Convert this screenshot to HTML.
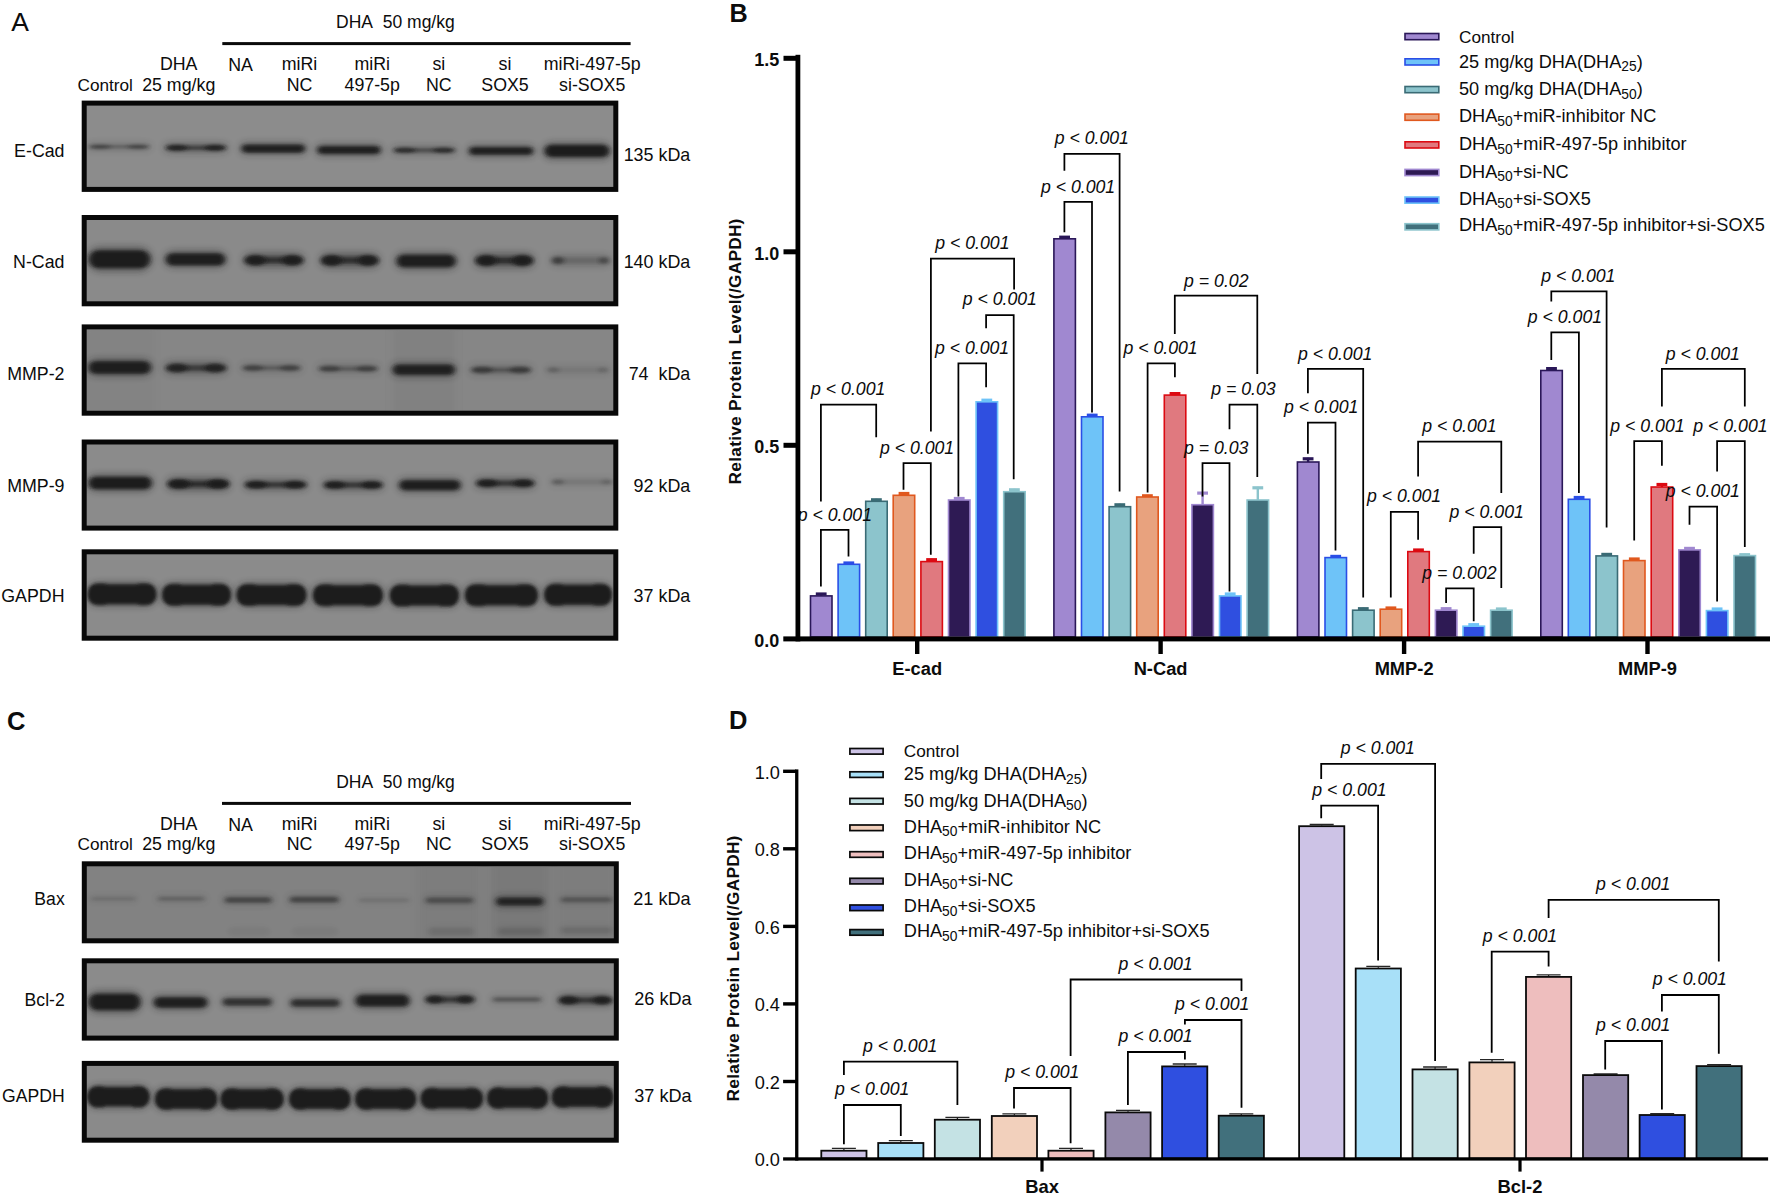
<!DOCTYPE html>
<html lang="en"><head><meta charset="utf-8"><title>Figure</title>
<style>html,body{margin:0;padding:0;background:#fff;}svg{display:block;}text{font-family:'Liberation Sans', sans-serif;fill:#0c0c0c;}</style>
</head><body>
<svg width="1772" height="1196" viewBox="0 0 1772 1196">
<defs>
<filter id="blC" x="-30%" y="-200%" width="160%" height="500%"><feGaussianBlur stdDeviation="2.6 1.7"/></filter>
<filter id="blB" x="-30%" y="-200%" width="160%" height="500%"><feGaussianBlur stdDeviation="1.6 1.4"/></filter>
<filter id="blH" x="-30%" y="-200%" width="160%" height="500%"><feGaussianBlur stdDeviation="3.6 3.0"/></filter>
</defs>
<rect x="0" y="0" width="1772" height="1196" fill="#ffffff"/>
<text x="11.2" y="30.5" font-size="26.5" text-anchor="start" font-weight="normal" font-style="normal" >A</text>
<text x="395.4" y="27.6" font-size="17.5" text-anchor="middle" font-weight="normal" font-style="normal" >DHA&#160; 50 mg/kg</text>
<rect x="222.3" y="42.1" width="408.3" height="3.0" fill="#0a0a0a"/>
<text x="105.2" y="90.6" font-size="17.2" text-anchor="middle" font-weight="normal" font-style="normal" >Control</text>
<text x="178.7" y="70.3" font-size="17.8" text-anchor="middle" font-weight="normal" font-style="normal" >DHA</text>
<text x="178.7" y="90.6" font-size="17.8" text-anchor="middle" font-weight="normal" font-style="normal" >25 mg/kg</text>
<text x="240.5" y="71.3" font-size="17.8" text-anchor="middle" font-weight="normal" font-style="normal" >NA</text>
<text x="299.5" y="70.3" font-size="17.8" text-anchor="middle" font-weight="normal" font-style="normal" >miRi</text>
<text x="299.5" y="90.6" font-size="17.8" text-anchor="middle" font-weight="normal" font-style="normal" >NC</text>
<text x="372.2" y="70.3" font-size="17.8" text-anchor="middle" font-weight="normal" font-style="normal" >miRi</text>
<text x="372.2" y="90.6" font-size="17.8" text-anchor="middle" font-weight="normal" font-style="normal" >497-5p</text>
<text x="438.8" y="70.3" font-size="17.8" text-anchor="middle" font-weight="normal" font-style="normal" >si</text>
<text x="438.8" y="90.6" font-size="17.8" text-anchor="middle" font-weight="normal" font-style="normal" >NC</text>
<text x="505.0" y="70.3" font-size="17.8" text-anchor="middle" font-weight="normal" font-style="normal" >si</text>
<text x="505.0" y="90.6" font-size="17.8" text-anchor="middle" font-weight="normal" font-style="normal" >SOX5</text>
<text x="592.2" y="70.3" font-size="17.8" text-anchor="middle" font-weight="normal" font-style="normal" >miRi-497-5p</text>
<text x="592.2" y="90.6" font-size="17.8" text-anchor="middle" font-weight="normal" font-style="normal" >si-SOX5</text>
<g>
<rect x="81.7" y="100.6" width="536.5999999999999" height="91.30000000000001" fill="#080808"/>
<rect x="86.7" y="105.6" width="526.5999999999999" height="81.30000000000001" fill="#8c8c8c"/>
<clipPath id="cpa0"><rect x="86.7" y="105.6" width="526.5999999999999" height="81.30000000000001"/></clipPath>
<g clip-path="url(#cpa0)">
<rect x="87.3" y="142.8" width="63.5" height="8.0" rx="4.0" fill="#1b1b1b" opacity="0.18" filter="url(#blH)"/>
<rect x="90.3" y="145.6" width="57.5" height="2.5" rx="1.2" fill="#1b1b1b" opacity="0.33" filter="url(#blC)"/>
<ellipse cx="100.3" cy="146.8" rx="10.5" ry="2.1" fill="#1b1b1b" opacity="0.42" filter="url(#blC)"/>
<ellipse cx="137.8" cy="146.8" rx="10.5" ry="2.1" fill="#1b1b1b" opacity="0.42" filter="url(#blC)"/>
<rect x="164.2" y="142.8" width="63.5" height="10.0" rx="5.0" fill="#1b1b1b" opacity="0.34" filter="url(#blH)"/>
<rect x="167.2" y="146.1" width="57.5" height="3.5" rx="1.8" fill="#1b1b1b" opacity="0.62" filter="url(#blC)"/>
<ellipse cx="177.2" cy="147.8" rx="10.5" ry="2.9" fill="#1b1b1b" opacity="0.8" filter="url(#blC)"/>
<ellipse cx="214.7" cy="147.8" rx="10.5" ry="2.9" fill="#1b1b1b" opacity="0.8" filter="url(#blC)"/>
<rect x="240.0" y="142.3" width="66.6" height="12.5" rx="6.2" fill="#1b1b1b" opacity="0.40" filter="url(#blH)"/>
<rect x="242.2" y="144.8" width="62.2" height="7.6" rx="3.8" fill="#1b1b1b" opacity="0.95" filter="url(#blC)"/>
<rect x="315.8" y="143.8" width="66.2" height="12.5" rx="6.2" fill="#1b1b1b" opacity="0.40" filter="url(#blH)"/>
<rect x="318.0" y="146.2" width="61.8" height="7.6" rx="3.8" fill="#1b1b1b" opacity="0.95" filter="url(#blC)"/>
<rect x="392.0" y="145.8" width="64.5" height="9.0" rx="4.5" fill="#1b1b1b" opacity="0.29" filter="url(#blH)"/>
<rect x="395.0" y="148.8" width="58.5" height="3.0" rx="1.5" fill="#1b1b1b" opacity="0.53" filter="url(#blC)"/>
<ellipse cx="405.1" cy="150.3" rx="10.6" ry="2.5" fill="#1b1b1b" opacity="0.68" filter="url(#blC)"/>
<ellipse cx="443.4" cy="150.3" rx="10.6" ry="2.5" fill="#1b1b1b" opacity="0.68" filter="url(#blC)"/>
<rect x="467.5" y="144.9" width="67.2" height="12.0" rx="6.0" fill="#1b1b1b" opacity="0.40" filter="url(#blH)"/>
<rect x="469.7" y="147.3" width="62.8" height="7.2" rx="3.6" fill="#1b1b1b" opacity="0.95" filter="url(#blC)"/>
<rect x="543.0" y="142.2" width="68.0" height="17.5" rx="8.8" fill="#1b1b1b" opacity="0.42" filter="url(#blH)"/>
<rect x="545.2" y="145.1" width="63.6" height="11.6" rx="5.8" fill="#1b1b1b" opacity="1.0" filter="url(#blC)"/>
</g></g>
<g>
<rect x="81.7" y="215" width="536.5999999999999" height="91.30000000000001" fill="#080808"/>
<rect x="86.7" y="220.0" width="526.5999999999999" height="81.30000000000001" fill="#8a8a8a"/>
<clipPath id="cpa1"><rect x="86.7" y="220.0" width="526.5999999999999" height="81.30000000000001"/></clipPath>
<g clip-path="url(#cpa1)">
<rect x="87.3" y="246.7" width="64.5" height="25.0" rx="12.5" fill="#1b1b1b" opacity="0.42" filter="url(#blH)"/>
<rect x="89.5" y="250.4" width="60.1" height="17.6" rx="8.8" fill="#1b1b1b" opacity="1.0" filter="url(#blC)"/>
<rect x="164.2" y="250.6" width="62.6" height="17.5" rx="8.8" fill="#1b1b1b" opacity="0.41" filter="url(#blH)"/>
<rect x="166.4" y="253.6" width="58.2" height="11.6" rx="5.8" fill="#1b1b1b" opacity="0.97" filter="url(#blC)"/>
<rect x="243.0" y="252.4" width="61.7" height="15.5" rx="7.8" fill="#1b1b1b" opacity="0.38" filter="url(#blH)"/>
<rect x="246.0" y="257.1" width="55.7" height="6.2" rx="3.1" fill="#1b1b1b" opacity="0.70" filter="url(#blC)"/>
<ellipse cx="255.6" cy="260.2" rx="10.1" ry="5.2" fill="#1b1b1b" opacity="0.9" filter="url(#blC)"/>
<ellipse cx="292.1" cy="260.2" rx="10.1" ry="5.2" fill="#1b1b1b" opacity="0.9" filter="url(#blC)"/>
<rect x="319.5" y="252.4" width="60.5" height="16.0" rx="8.0" fill="#1b1b1b" opacity="0.38" filter="url(#blH)"/>
<rect x="322.5" y="257.1" width="54.5" height="6.5" rx="3.2" fill="#1b1b1b" opacity="0.70" filter="url(#blC)"/>
<ellipse cx="331.9" cy="260.4" rx="9.9" ry="5.5" fill="#1b1b1b" opacity="0.9" filter="url(#blC)"/>
<ellipse cx="367.6" cy="260.4" rx="9.9" ry="5.5" fill="#1b1b1b" opacity="0.9" filter="url(#blC)"/>
<rect x="395.0" y="252.0" width="62.4" height="18.0" rx="9.0" fill="#1b1b1b" opacity="0.41" filter="url(#blH)"/>
<rect x="397.2" y="255.0" width="58.0" height="12.0" rx="6.0" fill="#1b1b1b" opacity="0.97" filter="url(#blC)"/>
<rect x="474.0" y="252.5" width="60.7" height="16.0" rx="8.0" fill="#1b1b1b" opacity="0.39" filter="url(#blH)"/>
<rect x="477.0" y="257.2" width="54.7" height="6.5" rx="3.2" fill="#1b1b1b" opacity="0.72" filter="url(#blC)"/>
<ellipse cx="486.5" cy="260.5" rx="10.0" ry="5.5" fill="#1b1b1b" opacity="0.92" filter="url(#blC)"/>
<ellipse cx="522.2" cy="260.5" rx="10.0" ry="5.5" fill="#1b1b1b" opacity="0.92" filter="url(#blC)"/>
<rect x="550.4" y="254.8" width="60.6" height="11.5" rx="5.8" fill="#1b1b1b" opacity="0.23" filter="url(#blH)"/>
<rect x="553.4" y="258.4" width="54.6" height="4.2" rx="2.1" fill="#1b1b1b" opacity="0.12" filter="url(#blC)"/>
<ellipse cx="557.9" cy="260.5" rx="6" ry="3.8" fill="#1b1b1b" opacity="0.55" filter="url(#blC)"/>
<ellipse cx="604.0" cy="260.5" rx="5" ry="3.6" fill="#1b1b1b" opacity="0.41" filter="url(#blC)"/>
</g></g>
<g>
<rect x="81.7" y="324.4" width="536.5999999999999" height="91.30000000000001" fill="#080808"/>
<rect x="86.7" y="329.4" width="526.5999999999999" height="81.30000000000001" fill="#868686"/>
<clipPath id="cpa2"><rect x="86.7" y="329.4" width="526.5999999999999" height="81.30000000000001"/></clipPath>
<g clip-path="url(#cpa2)">
<rect x="86" y="325" width="68" height="95" fill="#7c7c7c" opacity="0.25" filter="url(#blH)"/>
<rect x="392" y="325" width="64" height="95" fill="#787878" opacity="0.3" filter="url(#blH)"/>
<rect x="87.0" y="358.5" width="65.4" height="18.0" rx="9.0" fill="#1b1b1b" opacity="0.41" filter="url(#blH)"/>
<rect x="89.2" y="361.5" width="61.0" height="12.0" rx="6.0" fill="#1b1b1b" opacity="0.97" filter="url(#blC)"/>
<rect x="164.3" y="361.2" width="63.5" height="13.5" rx="6.8" fill="#1b1b1b" opacity="0.33" filter="url(#blH)"/>
<rect x="167.3" y="365.4" width="57.5" height="5.2" rx="2.6" fill="#1b1b1b" opacity="0.61" filter="url(#blC)"/>
<ellipse cx="177.3" cy="368.0" rx="10.5" ry="4.4" fill="#1b1b1b" opacity="0.78" filter="url(#blC)"/>
<ellipse cx="214.8" cy="368.0" rx="10.5" ry="4.4" fill="#1b1b1b" opacity="0.78" filter="url(#blC)"/>
<rect x="240.7" y="363.0" width="61.6" height="10.0" rx="5.0" fill="#1b1b1b" opacity="0.18" filter="url(#blH)"/>
<rect x="243.7" y="366.2" width="55.6" height="3.5" rx="1.8" fill="#1b1b1b" opacity="0.33" filter="url(#blC)"/>
<ellipse cx="253.3" cy="368.0" rx="10.1" ry="2.9" fill="#1b1b1b" opacity="0.42" filter="url(#blC)"/>
<ellipse cx="289.7" cy="368.0" rx="10.1" ry="2.9" fill="#1b1b1b" opacity="0.42" filter="url(#blC)"/>
<rect x="317.0" y="363.6" width="62.3" height="10.0" rx="5.0" fill="#1b1b1b" opacity="0.18" filter="url(#blH)"/>
<rect x="320.0" y="366.9" width="56.3" height="3.5" rx="1.8" fill="#1b1b1b" opacity="0.34" filter="url(#blC)"/>
<ellipse cx="329.8" cy="368.6" rx="10.3" ry="2.9" fill="#1b1b1b" opacity="0.44" filter="url(#blC)"/>
<ellipse cx="366.5" cy="368.6" rx="10.3" ry="2.9" fill="#1b1b1b" opacity="0.44" filter="url(#blC)"/>
<rect x="391.2" y="362.1" width="65.3" height="15.5" rx="7.8" fill="#1b1b1b" opacity="0.39" filter="url(#blH)"/>
<rect x="393.4" y="364.8" width="60.9" height="10.0" rx="5.0" fill="#1b1b1b" opacity="0.92" filter="url(#blC)"/>
<rect x="469.4" y="364.4" width="63.4" height="11.0" rx="5.5" fill="#1b1b1b" opacity="0.20" filter="url(#blH)"/>
<rect x="472.4" y="367.9" width="57.4" height="4.0" rx="2.0" fill="#1b1b1b" opacity="0.37" filter="url(#blC)"/>
<ellipse cx="482.3" cy="369.9" rx="10.4" ry="3.4" fill="#1b1b1b" opacity="0.48" filter="url(#blC)"/>
<ellipse cx="519.9" cy="369.9" rx="10.4" ry="3.4" fill="#1b1b1b" opacity="0.48" filter="url(#blC)"/>
<rect x="545.7" y="365.4" width="64.3" height="9.0" rx="4.5" fill="#1b1b1b" opacity="0.10" filter="url(#blH)"/>
<rect x="548.7" y="368.4" width="58.3" height="3.0" rx="1.5" fill="#1b1b1b" opacity="0.06" filter="url(#blC)"/>
<ellipse cx="553.2" cy="369.9" rx="6" ry="2.7" fill="#1b1b1b" opacity="0.25" filter="url(#blC)"/>
<ellipse cx="603.0" cy="369.9" rx="5" ry="2.5" fill="#1b1b1b" opacity="0.19" filter="url(#blC)"/>
</g></g>
<g>
<rect x="81.7" y="439.5" width="536.5999999999999" height="91.10000000000002" fill="#080808"/>
<rect x="86.7" y="444.5" width="526.5999999999999" height="81.10000000000002" fill="#8b8b8b"/>
<clipPath id="cpa3"><rect x="86.7" y="444.5" width="526.5999999999999" height="81.10000000000002"/></clipPath>
<g clip-path="url(#cpa3)">
<rect x="87.0" y="474.0" width="66.3" height="18.0" rx="9.0" fill="#1b1b1b" opacity="0.42" filter="url(#blH)"/>
<rect x="89.2" y="477.0" width="61.9" height="12.0" rx="6.0" fill="#1b1b1b" opacity="1.0" filter="url(#blC)"/>
<rect x="166.2" y="476.8" width="64.4" height="14.5" rx="7.2" fill="#1b1b1b" opacity="0.40" filter="url(#blH)"/>
<rect x="169.2" y="481.1" width="58.4" height="5.8" rx="2.9" fill="#1b1b1b" opacity="0.74" filter="url(#blC)"/>
<ellipse cx="179.3" cy="484.0" rx="10.6" ry="4.8" fill="#1b1b1b" opacity="0.95" filter="url(#blC)"/>
<ellipse cx="217.5" cy="484.0" rx="10.6" ry="4.8" fill="#1b1b1b" opacity="0.95" filter="url(#blC)"/>
<rect x="243.5" y="478.8" width="64.3" height="12.0" rx="6.0" fill="#1b1b1b" opacity="0.37" filter="url(#blH)"/>
<rect x="246.5" y="482.6" width="58.3" height="4.5" rx="2.2" fill="#1b1b1b" opacity="0.69" filter="url(#blC)"/>
<ellipse cx="256.6" cy="484.8" rx="10.6" ry="3.8" fill="#1b1b1b" opacity="0.88" filter="url(#blC)"/>
<ellipse cx="294.7" cy="484.8" rx="10.6" ry="3.8" fill="#1b1b1b" opacity="0.88" filter="url(#blC)"/>
<rect x="322.5" y="479.0" width="61.5" height="12.0" rx="6.0" fill="#1b1b1b" opacity="0.37" filter="url(#blH)"/>
<rect x="325.5" y="482.8" width="55.5" height="4.5" rx="2.2" fill="#1b1b1b" opacity="0.69" filter="url(#blC)"/>
<ellipse cx="335.1" cy="485.0" rx="10.1" ry="3.8" fill="#1b1b1b" opacity="0.88" filter="url(#blC)"/>
<ellipse cx="371.4" cy="485.0" rx="10.1" ry="3.8" fill="#1b1b1b" opacity="0.88" filter="url(#blC)"/>
<rect x="397.7" y="477.7" width="64.3" height="15.0" rx="7.5" fill="#1b1b1b" opacity="0.41" filter="url(#blH)"/>
<rect x="399.9" y="480.4" width="59.9" height="9.6" rx="4.8" fill="#1b1b1b" opacity="0.97" filter="url(#blC)"/>
<rect x="475.0" y="477.2" width="60.6" height="12.0" rx="6.0" fill="#1b1b1b" opacity="0.38" filter="url(#blH)"/>
<rect x="478.0" y="480.9" width="54.6" height="4.5" rx="2.2" fill="#1b1b1b" opacity="0.70" filter="url(#blC)"/>
<ellipse cx="487.5" cy="483.2" rx="10.0" ry="3.8" fill="#1b1b1b" opacity="0.9" filter="url(#blC)"/>
<ellipse cx="523.1" cy="483.2" rx="10.0" ry="3.8" fill="#1b1b1b" opacity="0.9" filter="url(#blC)"/>
<rect x="550.4" y="477.8" width="63.4" height="8.5" rx="4.2" fill="#1b1b1b" opacity="0.13" filter="url(#blH)"/>
<rect x="553.4" y="480.6" width="57.4" height="2.8" rx="1.4" fill="#1b1b1b" opacity="0.07" filter="url(#blC)"/>
<ellipse cx="557.9" cy="482.0" rx="6" ry="2.5" fill="#1b1b1b" opacity="0.3" filter="url(#blC)"/>
<ellipse cx="606.8" cy="482.0" rx="5" ry="2.3" fill="#1b1b1b" opacity="0.22" filter="url(#blC)"/>
</g></g>
<g>
<rect x="81.7" y="549.3" width="536.5999999999999" height="91.40000000000009" fill="#080808"/>
<rect x="86.7" y="554.3" width="526.5999999999999" height="81.40000000000009" fill="#8b8b8b"/>
<clipPath id="cpa4"><rect x="86.7" y="554.3" width="526.5999999999999" height="81.40000000000009"/></clipPath>
<g clip-path="url(#cpa4)">
<rect x="86.1" y="582.0" width="71.8" height="24.5" rx="12.2" fill="#1b1b1b" opacity="0.42" filter="url(#blH)"/>
<g filter="url(#blB)" opacity="1.0" fill="#1b1b1b">
<rect x="88.6" y="584.6" width="66.8" height="19.4" rx="9.7"/>
<rect x="87.9" y="583.5" width="25.1" height="21.5" rx="9.5"/>
<rect x="131.0" y="583.5" width="25.1" height="21.5" rx="9.5"/>
</g>
<rect x="160.6" y="582.5" width="71.8" height="24.5" rx="12.2" fill="#1b1b1b" opacity="0.42" filter="url(#blH)"/>
<g filter="url(#blB)" opacity="1.0" fill="#1b1b1b">
<rect x="163.1" y="585.1" width="66.8" height="19.4" rx="9.7"/>
<rect x="162.4" y="584.0" width="25.1" height="21.5" rx="9.5"/>
<rect x="205.5" y="584.0" width="25.1" height="21.5" rx="9.5"/>
</g>
<rect x="235.0" y="582.8" width="72.9" height="24.5" rx="12.2" fill="#1b1b1b" opacity="0.42" filter="url(#blH)"/>
<g filter="url(#blB)" opacity="1.0" fill="#1b1b1b">
<rect x="237.5" y="585.3" width="67.9" height="19.4" rx="9.7"/>
<rect x="236.8" y="584.2" width="25.5" height="21.5" rx="9.5"/>
<rect x="280.6" y="584.2" width="25.5" height="21.5" rx="9.5"/>
</g>
<rect x="311.4" y="583.0" width="73.0" height="24.5" rx="12.2" fill="#1b1b1b" opacity="0.42" filter="url(#blH)"/>
<g filter="url(#blB)" opacity="1.0" fill="#1b1b1b">
<rect x="313.9" y="585.5" width="68.0" height="19.4" rx="9.7"/>
<rect x="313.2" y="584.5" width="25.6" height="21.5" rx="9.5"/>
<rect x="357.0" y="584.5" width="25.6" height="21.5" rx="9.5"/>
</g>
<rect x="388.3" y="583.2" width="72.1" height="24.5" rx="12.2" fill="#1b1b1b" opacity="0.42" filter="url(#blH)"/>
<g filter="url(#blB)" opacity="1.0" fill="#1b1b1b">
<rect x="390.8" y="585.8" width="67.1" height="19.4" rx="9.7"/>
<rect x="390.1" y="584.8" width="25.2" height="21.5" rx="9.5"/>
<rect x="433.4" y="584.8" width="25.2" height="21.5" rx="9.5"/>
</g>
<rect x="463.4" y="583.0" width="76.0" height="24.5" rx="12.2" fill="#1b1b1b" opacity="0.42" filter="url(#blH)"/>
<g filter="url(#blB)" opacity="1.0" fill="#1b1b1b">
<rect x="465.9" y="585.5" width="71.0" height="19.4" rx="9.7"/>
<rect x="465.2" y="584.5" width="26.6" height="21.5" rx="9.5"/>
<rect x="511.0" y="584.5" width="26.6" height="21.5" rx="9.5"/>
</g>
<rect x="542.7" y="582.5" width="70.8" height="24.5" rx="12.2" fill="#1b1b1b" opacity="0.42" filter="url(#blH)"/>
<g filter="url(#blB)" opacity="1.0" fill="#1b1b1b">
<rect x="545.2" y="585.1" width="65.8" height="19.4" rx="9.7"/>
<rect x="544.5" y="584.0" width="24.8" height="21.5" rx="9.5"/>
<rect x="586.9" y="584.0" width="24.8" height="21.5" rx="9.5"/>
</g>
</g></g>
<text x="64.5" y="157.3" font-size="17.8" text-anchor="end" font-weight="normal" font-style="normal" >E-Cad</text>
<text x="64.5" y="268.3" font-size="17.8" text-anchor="end" font-weight="normal" font-style="normal" >N-Cad</text>
<text x="64.5" y="379.8" font-size="17.8" text-anchor="end" font-weight="normal" font-style="normal" >MMP-2</text>
<text x="64.5" y="492.3" font-size="17.8" text-anchor="end" font-weight="normal" font-style="normal" >MMP-9</text>
<text x="64.5" y="602.3" font-size="17.8" text-anchor="end" font-weight="normal" font-style="normal" >GAPDH</text>
<text x="690.3" y="161.2" font-size="17.9" text-anchor="end" font-weight="normal" font-style="normal" >135 kDa</text>
<text x="690.3" y="268.0" font-size="17.9" text-anchor="end" font-weight="normal" font-style="normal" >140 kDa</text>
<text x="690.3" y="379.5" font-size="17.9" text-anchor="end" font-weight="normal" font-style="normal" >74&#160; kDa</text>
<text x="690.3" y="492.0" font-size="17.9" text-anchor="end" font-weight="normal" font-style="normal" >92 kDa</text>
<text x="690.3" y="602.0" font-size="17.9" text-anchor="end" font-weight="normal" font-style="normal" >37 kDa</text>
<text x="7.0" y="729.6" font-size="25.5" text-anchor="start" font-weight="bold" font-style="normal" >C</text>
<text x="395.5" y="788.0" font-size="17.5" text-anchor="middle" font-weight="normal" font-style="normal" >DHA&#160; 50 mg/kg</text>
<rect x="222.0" y="801.9" width="409" height="3.0" fill="#0a0a0a"/>
<text x="105.2" y="850.0" font-size="17.2" text-anchor="middle" font-weight="normal" font-style="normal" >Control</text>
<text x="178.7" y="829.8" font-size="17.8" text-anchor="middle" font-weight="normal" font-style="normal" >DHA</text>
<text x="178.7" y="850.0" font-size="17.8" text-anchor="middle" font-weight="normal" font-style="normal" >25 mg/kg</text>
<text x="240.5" y="830.8" font-size="17.8" text-anchor="middle" font-weight="normal" font-style="normal" >NA</text>
<text x="299.5" y="829.8" font-size="17.8" text-anchor="middle" font-weight="normal" font-style="normal" >miRi</text>
<text x="299.5" y="850.0" font-size="17.8" text-anchor="middle" font-weight="normal" font-style="normal" >NC</text>
<text x="372.2" y="829.8" font-size="17.8" text-anchor="middle" font-weight="normal" font-style="normal" >miRi</text>
<text x="372.2" y="850.0" font-size="17.8" text-anchor="middle" font-weight="normal" font-style="normal" >497-5p</text>
<text x="438.8" y="829.8" font-size="17.8" text-anchor="middle" font-weight="normal" font-style="normal" >si</text>
<text x="438.8" y="850.0" font-size="17.8" text-anchor="middle" font-weight="normal" font-style="normal" >NC</text>
<text x="505.0" y="829.8" font-size="17.8" text-anchor="middle" font-weight="normal" font-style="normal" >si</text>
<text x="505.0" y="850.0" font-size="17.8" text-anchor="middle" font-weight="normal" font-style="normal" >SOX5</text>
<text x="592.2" y="829.8" font-size="17.8" text-anchor="middle" font-weight="normal" font-style="normal" >miRi-497-5p</text>
<text x="592.2" y="850.0" font-size="17.8" text-anchor="middle" font-weight="normal" font-style="normal" >si-SOX5</text>
<g>
<rect x="81.8" y="861.3" width="537.0" height="82.0" fill="#080808"/>
<rect x="86.8" y="866.3" width="527.0" height="72.0" fill="#828282"/>
<clipPath id="cpc0"><rect x="86.8" y="866.3" width="527.0" height="72.0"/></clipPath>
<g clip-path="url(#cpc0)">
<rect x="418" y="860" width="62" height="90" fill="#747474" opacity="0.35" filter="url(#blH)"/>
<rect x="490" y="860" width="60" height="90" fill="#707070" opacity="0.45" filter="url(#blH)"/>
<rect x="556" y="860" width="60" height="90" fill="#747474" opacity="0.3" filter="url(#blH)"/>
<rect x="89.0" y="895.0" width="48.5" height="7.5" rx="3.8" fill="#1b1b1b" opacity="0.06" filter="url(#blH)"/>
<rect x="91.2" y="897.0" width="44.1" height="3.6" rx="1.8" fill="#1b1b1b" opacity="0.14" filter="url(#blC)"/>
<rect x="156.0" y="894.8" width="50.4" height="8.0" rx="4.0" fill="#1b1b1b" opacity="0.10" filter="url(#blH)"/>
<rect x="158.2" y="896.8" width="46.0" height="4.0" rx="2.0" fill="#1b1b1b" opacity="0.24" filter="url(#blC)"/>
<rect x="223.0" y="895.2" width="50.4" height="9.5" rx="4.8" fill="#1b1b1b" opacity="0.22" filter="url(#blH)"/>
<rect x="225.2" y="897.4" width="46.0" height="5.2" rx="2.6" fill="#1b1b1b" opacity="0.52" filter="url(#blC)"/>
<rect x="288.0" y="895.0" width="52.4" height="9.5" rx="4.8" fill="#1b1b1b" opacity="0.22" filter="url(#blH)"/>
<rect x="290.2" y="897.1" width="48.0" height="5.2" rx="2.6" fill="#1b1b1b" opacity="0.52" filter="url(#blC)"/>
<rect x="357.0" y="896.5" width="54.0" height="7.5" rx="3.8" fill="#1b1b1b" opacity="0.05" filter="url(#blH)"/>
<rect x="359.2" y="898.5" width="49.6" height="3.6" rx="1.8" fill="#1b1b1b" opacity="0.13" filter="url(#blC)"/>
<rect x="424.0" y="895.5" width="51.0" height="9.5" rx="4.8" fill="#1b1b1b" opacity="0.18" filter="url(#blH)"/>
<rect x="426.2" y="897.7" width="46.6" height="5.2" rx="2.6" fill="#1b1b1b" opacity="0.42" filter="url(#blC)"/>
<rect x="494.5" y="895.2" width="50.5" height="12.5" rx="6.2" fill="#1b1b1b" opacity="0.37" filter="url(#blH)"/>
<rect x="496.7" y="897.7" width="46.1" height="7.6" rx="3.8" fill="#1b1b1b" opacity="0.88" filter="url(#blC)"/>
<rect x="559.0" y="895.5" width="55.0" height="8.5" rx="4.2" fill="#1b1b1b" opacity="0.14" filter="url(#blH)"/>
<rect x="561.2" y="897.6" width="50.6" height="4.4" rx="2.2" fill="#1b1b1b" opacity="0.34" filter="url(#blC)"/>
<rect x="427.0" y="925.5" width="48.0" height="12.0" rx="6.0" fill="#1b1b1b" opacity="0.04" filter="url(#blH)"/>
<rect x="429.2" y="927.9" width="43.6" height="7.2" rx="3.6" fill="#1b1b1b" opacity="0.1" filter="url(#blC)"/>
<rect x="496.0" y="925.5" width="49.0" height="12.0" rx="6.0" fill="#1b1b1b" opacity="0.05" filter="url(#blH)"/>
<rect x="498.2" y="927.9" width="44.6" height="7.2" rx="3.6" fill="#1b1b1b" opacity="0.13" filter="url(#blC)"/>
<rect x="559.0" y="925.0" width="55.0" height="11.0" rx="5.5" fill="#1b1b1b" opacity="0.05" filter="url(#blH)"/>
<rect x="561.2" y="927.3" width="50.6" height="6.4" rx="3.2" fill="#1b1b1b" opacity="0.12" filter="url(#blC)"/>
<rect x="227.0" y="925.5" width="44.0" height="12.0" rx="6.0" fill="#1b1b1b" opacity="0.01" filter="url(#blH)"/>
<rect x="229.2" y="927.9" width="39.6" height="7.2" rx="3.6" fill="#1b1b1b" opacity="0.03" filter="url(#blC)"/>
<rect x="291.0" y="925.5" width="48.0" height="12.0" rx="6.0" fill="#1b1b1b" opacity="0.01" filter="url(#blH)"/>
<rect x="293.2" y="927.9" width="43.6" height="7.2" rx="3.6" fill="#1b1b1b" opacity="0.03" filter="url(#blC)"/>
</g></g>
<g>
<rect x="81.8" y="958.3" width="537.0" height="82.29999999999995" fill="#080808"/>
<rect x="86.8" y="963.3" width="527.0" height="72.29999999999995" fill="#8b8b8b"/>
<clipPath id="cpc1"><rect x="86.8" y="963.3" width="527.0" height="72.29999999999995"/></clipPath>
<g clip-path="url(#cpc1)">
<rect x="87.0" y="990.5" width="55.0" height="23.0" rx="11.5" fill="#1b1b1b" opacity="0.42" filter="url(#blH)"/>
<rect x="89.2" y="994.0" width="50.6" height="16.0" rx="8.0" fill="#1b1b1b" opacity="1.0" filter="url(#blC)"/>
<rect x="152.2" y="994.8" width="56.8" height="15.5" rx="7.8" fill="#1b1b1b" opacity="0.40" filter="url(#blH)"/>
<rect x="154.4" y="997.5" width="52.4" height="10.0" rx="5.0" fill="#1b1b1b" opacity="0.95" filter="url(#blC)"/>
<rect x="221.0" y="996.2" width="52.4" height="11.5" rx="5.8" fill="#1b1b1b" opacity="0.30" filter="url(#blH)"/>
<rect x="223.2" y="998.6" width="48.0" height="6.8" rx="3.4" fill="#1b1b1b" opacity="0.72" filter="url(#blC)"/>
<rect x="289.0" y="997.0" width="52.4" height="12.0" rx="6.0" fill="#1b1b1b" opacity="0.32" filter="url(#blH)"/>
<rect x="291.2" y="999.4" width="48.0" height="7.2" rx="3.6" fill="#1b1b1b" opacity="0.76" filter="url(#blC)"/>
<rect x="354.0" y="992.2" width="57.0" height="17.0" rx="8.5" fill="#1b1b1b" opacity="0.40" filter="url(#blH)"/>
<rect x="356.2" y="995.1" width="52.6" height="11.2" rx="5.6" fill="#1b1b1b" opacity="0.95" filter="url(#blC)"/>
<rect x="423.8" y="993.2" width="52.2" height="12.5" rx="6.2" fill="#1b1b1b" opacity="0.34" filter="url(#blH)"/>
<rect x="426.8" y="997.1" width="46.2" height="4.8" rx="2.4" fill="#1b1b1b" opacity="0.64" filter="url(#blC)"/>
<ellipse cx="434.8" cy="999.5" rx="8.5" ry="4.0" fill="#1b1b1b" opacity="0.82" filter="url(#blC)"/>
<ellipse cx="465.0" cy="999.5" rx="8.5" ry="4.0" fill="#1b1b1b" opacity="0.82" filter="url(#blC)"/>
<rect x="490.8" y="995.5" width="52.2" height="8.0" rx="4.0" fill="#1b1b1b" opacity="0.17" filter="url(#blH)"/>
<rect x="493.0" y="997.5" width="47.8" height="4.0" rx="2.0" fill="#1b1b1b" opacity="0.4" filter="url(#blC)"/>
<rect x="557.0" y="993.8" width="56.8" height="13.0" rx="6.5" fill="#1b1b1b" opacity="0.36" filter="url(#blH)"/>
<rect x="560.0" y="997.8" width="50.8" height="5.0" rx="2.5" fill="#1b1b1b" opacity="0.66" filter="url(#blC)"/>
<ellipse cx="568.8" cy="1000.3" rx="9.3" ry="4.2" fill="#1b1b1b" opacity="0.85" filter="url(#blC)"/>
<ellipse cx="602.0" cy="1000.3" rx="9.3" ry="4.2" fill="#1b1b1b" opacity="0.85" filter="url(#blC)"/>
</g></g>
<g>
<rect x="81.8" y="1060.9" width="537.0" height="81.79999999999995" fill="#080808"/>
<rect x="86.8" y="1065.9" width="527.0" height="71.79999999999995" fill="#8a8a8a"/>
<clipPath id="cpc2"><rect x="86.8" y="1065.9" width="527.0" height="71.79999999999995"/></clipPath>
<g clip-path="url(#cpc2)">
<rect x="85.7" y="1084.7" width="65.5" height="24.0" rx="12.0" fill="#1b1b1b" opacity="0.42" filter="url(#blH)"/>
<g filter="url(#blB)" opacity="1.0" fill="#1b1b1b">
<rect x="88.2" y="1087.2" width="60.5" height="18.9" rx="9.5"/>
<rect x="87.5" y="1086.2" width="22.8" height="21.0" rx="9.5"/>
<rect x="126.5" y="1086.2" width="22.8" height="21.0" rx="9.5"/>
</g>
<rect x="153.4" y="1087.0" width="65.5" height="24.0" rx="12.0" fill="#1b1b1b" opacity="0.42" filter="url(#blH)"/>
<g filter="url(#blB)" opacity="1.0" fill="#1b1b1b">
<rect x="155.9" y="1089.5" width="60.5" height="18.9" rx="9.5"/>
<rect x="155.2" y="1088.5" width="22.8" height="21.0" rx="9.5"/>
<rect x="194.2" y="1088.5" width="22.8" height="21.0" rx="9.5"/>
</g>
<rect x="219.0" y="1087.0" width="66.3" height="24.0" rx="12.0" fill="#1b1b1b" opacity="0.42" filter="url(#blH)"/>
<g filter="url(#blB)" opacity="1.0" fill="#1b1b1b">
<rect x="221.5" y="1089.5" width="61.3" height="18.9" rx="9.5"/>
<rect x="220.8" y="1088.5" width="23.1" height="21.0" rx="9.5"/>
<rect x="260.3" y="1088.5" width="23.1" height="21.0" rx="9.5"/>
</g>
<rect x="287.5" y="1087.0" width="64.6" height="24.0" rx="12.0" fill="#1b1b1b" opacity="0.42" filter="url(#blH)"/>
<g filter="url(#blB)" opacity="1.0" fill="#1b1b1b">
<rect x="290.0" y="1089.5" width="59.6" height="18.9" rx="9.5"/>
<rect x="289.3" y="1088.5" width="22.5" height="21.0" rx="9.5"/>
<rect x="327.8" y="1088.5" width="22.5" height="21.0" rx="9.5"/>
</g>
<rect x="353.5" y="1087.0" width="64.2" height="24.0" rx="12.0" fill="#1b1b1b" opacity="0.42" filter="url(#blH)"/>
<g filter="url(#blB)" opacity="1.0" fill="#1b1b1b">
<rect x="356.0" y="1089.5" width="59.2" height="18.9" rx="9.5"/>
<rect x="355.3" y="1088.5" width="22.4" height="21.0" rx="9.5"/>
<rect x="393.5" y="1088.5" width="22.4" height="21.0" rx="9.5"/>
</g>
<rect x="419.1" y="1086.5" width="65.5" height="24.0" rx="12.0" fill="#1b1b1b" opacity="0.42" filter="url(#blH)"/>
<g filter="url(#blB)" opacity="1.0" fill="#1b1b1b">
<rect x="421.6" y="1089.0" width="60.5" height="18.9" rx="9.5"/>
<rect x="420.9" y="1088.0" width="22.8" height="21.0" rx="9.5"/>
<rect x="459.9" y="1088.0" width="22.8" height="21.0" rx="9.5"/>
</g>
<rect x="485.5" y="1086.0" width="64.2" height="24.0" rx="12.0" fill="#1b1b1b" opacity="0.42" filter="url(#blH)"/>
<g filter="url(#blB)" opacity="1.0" fill="#1b1b1b">
<rect x="488.0" y="1088.5" width="59.2" height="18.9" rx="9.5"/>
<rect x="487.3" y="1087.5" width="22.4" height="21.0" rx="9.5"/>
<rect x="525.5" y="1087.5" width="22.4" height="21.0" rx="9.5"/>
</g>
<rect x="550.2" y="1085.0" width="65.0" height="24.0" rx="12.0" fill="#1b1b1b" opacity="0.42" filter="url(#blH)"/>
<g filter="url(#blB)" opacity="1.0" fill="#1b1b1b">
<rect x="552.7" y="1087.5" width="60.0" height="18.9" rx="9.5"/>
<rect x="552.0" y="1086.5" width="22.7" height="21.0" rx="9.5"/>
<rect x="590.7" y="1086.5" width="22.7" height="21.0" rx="9.5"/>
</g>
</g></g>
<text x="64.7" y="904.8" font-size="17.6" text-anchor="end" font-weight="normal" font-style="normal" >Bax</text>
<text x="64.7" y="1005.5" font-size="17.6" text-anchor="end" font-weight="normal" font-style="normal" >Bcl-2</text>
<text x="64.7" y="1102.3" font-size="17.6" text-anchor="end" font-weight="normal" font-style="normal" >GAPDH</text>
<text x="690.6" y="904.5" font-size="18.1" text-anchor="end" font-weight="normal" font-style="normal" >21 kDa</text>
<text x="691.6" y="1005.2" font-size="18.1" text-anchor="end" font-weight="normal" font-style="normal" >26 kDa</text>
<text x="691.6" y="1102.0" font-size="18.1" text-anchor="end" font-weight="normal" font-style="normal" >37 kDa</text>
<text x="729.6" y="22.0" font-size="25.2" text-anchor="start" font-weight="bold" font-style="normal" >B</text>
<rect x="820.0" y="593.0" width="2.4" height="3.7" fill="#2A1758"/>
<rect x="815.8" y="592.4" width="10.8" height="3.2" fill="#2A1758"/>
<rect x="810.5" y="595.9" width="21.5" height="41.1" fill="#A088D0" stroke="#2A1758" stroke-width="1.6"/>
<rect x="847.6" y="562.0" width="2.4" height="3.1" fill="#2A4EE6"/>
<rect x="843.4" y="561.4" width="10.8" height="3.2" fill="#2A4EE6"/>
<rect x="838.1" y="564.3" width="21.5" height="72.7" fill="#6EC3F8" stroke="#2A4EE6" stroke-width="1.6"/>
<rect x="875.2" y="498.8" width="2.4" height="3.3" fill="#3A6B75"/>
<rect x="871.0" y="498.2" width="10.8" height="3.2" fill="#3A6B75"/>
<rect x="865.7" y="501.3" width="21.5" height="135.7" fill="#8CC4CC" stroke="#3A6B75" stroke-width="1.6"/>
<rect x="902.8" y="492.5" width="2.4" height="3.6" fill="#E0581E"/>
<rect x="898.6" y="491.9" width="10.8" height="3.2" fill="#E0581E"/>
<rect x="893.2" y="495.3" width="21.5" height="141.7" fill="#E8A27E" stroke="#E0581E" stroke-width="1.6"/>
<rect x="930.4" y="558.7" width="2.4" height="3.7" fill="#DC0A12"/>
<rect x="926.2" y="558.1" width="10.8" height="3.2" fill="#DC0A12"/>
<rect x="920.9" y="561.6" width="21.5" height="75.4" fill="#E0797F" stroke="#DC0A12" stroke-width="1.6"/>
<rect x="958.0" y="497.5" width="2.4" height="3.3" fill="#A088D0"/>
<rect x="953.8" y="496.9" width="10.8" height="3.2" fill="#A088D0"/>
<rect x="948.5" y="500.0" width="21.5" height="137.0" fill="#2E1A54" stroke="#A088D0" stroke-width="1.6"/>
<rect x="985.6" y="399.2" width="2.4" height="3.4" fill="#6EC3F8"/>
<rect x="981.4" y="398.6" width="10.8" height="3.2" fill="#6EC3F8"/>
<rect x="976.1" y="401.8" width="21.5" height="235.2" fill="#2F4FE0" stroke="#6EC3F8" stroke-width="1.6"/>
<rect x="1013.2" y="488.8" width="2.4" height="3.7" fill="#8CC4CC"/>
<rect x="1009.0" y="488.2" width="10.8" height="3.2" fill="#8CC4CC"/>
<rect x="1003.7" y="491.7" width="21.5" height="145.3" fill="#41707C" stroke="#8CC4CC" stroke-width="1.6"/>
<rect x="1063.4" y="236.2" width="2.4" height="3.4" fill="#2A1758"/>
<rect x="1059.2" y="235.6" width="10.8" height="3.2" fill="#2A1758"/>
<rect x="1053.9" y="238.8" width="21.5" height="398.2" fill="#A088D0" stroke="#2A1758" stroke-width="1.6"/>
<rect x="1091.0" y="414.2" width="2.4" height="3.4" fill="#2A4EE6"/>
<rect x="1086.8" y="413.6" width="10.8" height="3.2" fill="#2A4EE6"/>
<rect x="1081.5" y="416.8" width="21.5" height="220.2" fill="#6EC3F8" stroke="#2A4EE6" stroke-width="1.6"/>
<rect x="1118.6" y="503.8" width="2.4" height="3.7" fill="#3A6B75"/>
<rect x="1114.4" y="503.2" width="10.8" height="3.2" fill="#3A6B75"/>
<rect x="1109.1" y="506.7" width="21.5" height="130.3" fill="#8CC4CC" stroke="#3A6B75" stroke-width="1.6"/>
<rect x="1146.2" y="494.8" width="2.4" height="3.0" fill="#E0581E"/>
<rect x="1142.0" y="494.2" width="10.8" height="3.2" fill="#E0581E"/>
<rect x="1136.7" y="497.0" width="21.5" height="140.0" fill="#E8A27E" stroke="#E0581E" stroke-width="1.6"/>
<rect x="1173.8" y="392.6" width="2.4" height="3.3" fill="#DC0A12"/>
<rect x="1169.6" y="392.0" width="10.8" height="3.2" fill="#DC0A12"/>
<rect x="1164.3" y="395.1" width="21.5" height="241.9" fill="#E0797F" stroke="#DC0A12" stroke-width="1.6"/>
<rect x="1201.4" y="492.1" width="2.4" height="13.4" fill="#A088D0"/>
<rect x="1197.2" y="491.5" width="10.8" height="3.2" fill="#A088D0"/>
<rect x="1191.9" y="504.7" width="21.5" height="132.3" fill="#2E1A54" stroke="#A088D0" stroke-width="1.6"/>
<rect x="1229.0" y="593.0" width="2.4" height="3.7" fill="#6EC3F8"/>
<rect x="1224.8" y="592.4" width="10.8" height="3.2" fill="#6EC3F8"/>
<rect x="1219.5" y="595.9" width="21.5" height="41.1" fill="#2F4FE0" stroke="#6EC3F8" stroke-width="1.6"/>
<rect x="1256.6" y="486.8" width="2.4" height="14.0" fill="#8CC4CC"/>
<rect x="1252.4" y="486.2" width="10.8" height="3.2" fill="#8CC4CC"/>
<rect x="1247.1" y="500.0" width="21.5" height="137.0" fill="#41707C" stroke="#8CC4CC" stroke-width="1.6"/>
<rect x="1306.9" y="457.8" width="2.4" height="5.0" fill="#2A1758"/>
<rect x="1302.7" y="457.2" width="10.8" height="3.2" fill="#2A1758"/>
<rect x="1297.4" y="462.0" width="21.5" height="175.0" fill="#A088D0" stroke="#2A1758" stroke-width="1.6"/>
<rect x="1334.5" y="555.4" width="2.4" height="3.0" fill="#2A4EE6"/>
<rect x="1330.3" y="554.8" width="10.8" height="3.2" fill="#2A4EE6"/>
<rect x="1325.0" y="557.6" width="21.5" height="79.4" fill="#6EC3F8" stroke="#2A4EE6" stroke-width="1.6"/>
<rect x="1362.1" y="607.7" width="2.4" height="3.3" fill="#3A6B75"/>
<rect x="1357.9" y="607.1" width="10.8" height="3.2" fill="#3A6B75"/>
<rect x="1352.6" y="610.2" width="21.5" height="26.8" fill="#8CC4CC" stroke="#3A6B75" stroke-width="1.6"/>
<rect x="1389.7" y="607.0" width="2.4" height="3.0" fill="#E0581E"/>
<rect x="1385.5" y="606.4" width="10.8" height="3.2" fill="#E0581E"/>
<rect x="1380.2" y="609.2" width="21.5" height="27.8" fill="#E8A27E" stroke="#E0581E" stroke-width="1.6"/>
<rect x="1417.3" y="549.0" width="2.4" height="3.4" fill="#DC0A12"/>
<rect x="1413.1" y="548.4" width="10.8" height="3.2" fill="#DC0A12"/>
<rect x="1407.8" y="551.6" width="21.5" height="85.4" fill="#E0797F" stroke="#DC0A12" stroke-width="1.6"/>
<rect x="1444.9" y="607.7" width="2.4" height="3.3" fill="#A088D0"/>
<rect x="1440.7" y="607.1" width="10.8" height="3.2" fill="#A088D0"/>
<rect x="1435.4" y="610.2" width="21.5" height="26.8" fill="#2E1A54" stroke="#A088D0" stroke-width="1.6"/>
<rect x="1472.5" y="623.7" width="2.4" height="3.3" fill="#6EC3F8"/>
<rect x="1468.3" y="623.1" width="10.8" height="3.2" fill="#6EC3F8"/>
<rect x="1463.0" y="626.2" width="21.5" height="10.8" fill="#2F4FE0" stroke="#6EC3F8" stroke-width="1.6"/>
<rect x="1500.1" y="608.0" width="2.4" height="3.0" fill="#8CC4CC"/>
<rect x="1495.9" y="607.4" width="10.8" height="3.2" fill="#8CC4CC"/>
<rect x="1490.6" y="610.2" width="21.5" height="26.8" fill="#41707C" stroke="#8CC4CC" stroke-width="1.6"/>
<rect x="1550.3" y="367.6" width="2.4" height="3.7" fill="#2A1758"/>
<rect x="1546.1" y="367.0" width="10.8" height="3.2" fill="#2A1758"/>
<rect x="1540.8" y="370.5" width="21.5" height="266.5" fill="#A088D0" stroke="#2A1758" stroke-width="1.6"/>
<rect x="1577.9" y="496.5" width="2.4" height="3.6" fill="#2A4EE6"/>
<rect x="1573.7" y="495.9" width="10.8" height="3.2" fill="#2A4EE6"/>
<rect x="1568.3" y="499.3" width="21.5" height="137.7" fill="#6EC3F8" stroke="#2A4EE6" stroke-width="1.6"/>
<rect x="1605.5" y="553.4" width="2.4" height="3.3" fill="#3A6B75"/>
<rect x="1601.3" y="552.8" width="10.8" height="3.2" fill="#3A6B75"/>
<rect x="1596.0" y="555.9" width="21.5" height="81.1" fill="#8CC4CC" stroke="#3A6B75" stroke-width="1.6"/>
<rect x="1633.1" y="558.0" width="2.4" height="3.4" fill="#E0581E"/>
<rect x="1628.9" y="557.4" width="10.8" height="3.2" fill="#E0581E"/>
<rect x="1623.5" y="560.6" width="21.5" height="76.4" fill="#E8A27E" stroke="#E0581E" stroke-width="1.6"/>
<rect x="1660.7" y="483.5" width="2.4" height="4.3" fill="#DC0A12"/>
<rect x="1656.5" y="482.9" width="10.8" height="3.2" fill="#DC0A12"/>
<rect x="1651.2" y="487.0" width="21.5" height="150.0" fill="#E0797F" stroke="#DC0A12" stroke-width="1.6"/>
<rect x="1688.3" y="547.4" width="2.4" height="3.3" fill="#A088D0"/>
<rect x="1684.1" y="546.8" width="10.8" height="3.2" fill="#A088D0"/>
<rect x="1678.8" y="549.9" width="21.5" height="87.1" fill="#2E1A54" stroke="#A088D0" stroke-width="1.6"/>
<rect x="1715.9" y="608.0" width="2.4" height="3.4" fill="#6EC3F8"/>
<rect x="1711.7" y="607.4" width="10.8" height="3.2" fill="#6EC3F8"/>
<rect x="1706.4" y="610.6" width="21.5" height="26.4" fill="#2F4FE0" stroke="#6EC3F8" stroke-width="1.6"/>
<rect x="1743.5" y="553.7" width="2.4" height="2.7" fill="#8CC4CC"/>
<rect x="1739.3" y="553.1" width="10.8" height="3.2" fill="#8CC4CC"/>
<rect x="1734.0" y="555.6" width="21.5" height="81.4" fill="#41707C" stroke="#8CC4CC" stroke-width="1.6"/>
<path d="M820.9,586.4 V529.8 H848.5 V556.4" fill="none" stroke="#000" stroke-width="1.75"/>
<text x="834.9" y="521.2" font-size="17.7" text-anchor="middle" font-weight="normal" font-style="italic" >p &lt; 0.001</text>
<path d="M820.9,501.5 V404.6 H876.2 V437.2" fill="none" stroke="#000" stroke-width="1.75"/>
<text x="848.2" y="395.0" font-size="17.7" text-anchor="middle" font-weight="normal" font-style="italic" >p &lt; 0.001</text>
<path d="M903.5,489.8 V463.2 H930.8 V554.7" fill="none" stroke="#000" stroke-width="1.75"/>
<text x="917.1" y="454.0" font-size="17.7" text-anchor="middle" font-weight="normal" font-style="italic" >p &lt; 0.001</text>
<path d="M930.9,431.5 V258.5 H1014.1 V289.5" fill="none" stroke="#000" stroke-width="1.75"/>
<text x="972.4" y="249.2" font-size="17.7" text-anchor="middle" font-weight="normal" font-style="italic" >p &lt; 0.001</text>
<path d="M958.4,496.5 V363.3 H986.1 V387.2" fill="none" stroke="#000" stroke-width="1.75"/>
<text x="972.1" y="354.1" font-size="17.7" text-anchor="middle" font-weight="normal" font-style="italic" >p &lt; 0.001</text>
<path d="M986.1,328.3 V315.0 H1013.7 V479.2" fill="none" stroke="#000" stroke-width="1.75"/>
<text x="999.8" y="305.0" font-size="17.7" text-anchor="middle" font-weight="normal" font-style="italic" >p &lt; 0.001</text>
<path d="M1064.4,232.2 V201.8 H1092.0 V412.6" fill="none" stroke="#000" stroke-width="1.75"/>
<text x="1078.1" y="192.8" font-size="17.7" text-anchor="middle" font-weight="normal" font-style="italic" >p &lt; 0.001</text>
<path d="M1064.4,170.7 V153.9 H1119.6 V491.5" fill="none" stroke="#000" stroke-width="1.75"/>
<text x="1091.8" y="144.0" font-size="17.7" text-anchor="middle" font-weight="normal" font-style="italic" >p &lt; 0.001</text>
<path d="M1147.6,492.5 V363.3 H1174.9 V377.3" fill="none" stroke="#000" stroke-width="1.75"/>
<text x="1160.6" y="354.1" font-size="17.7" text-anchor="middle" font-weight="normal" font-style="italic" >p &lt; 0.001</text>
<path d="M1174.8,334.0 V295.6 H1257.3 V374.0" fill="none" stroke="#000" stroke-width="1.75"/>
<text x="1216.3" y="286.5" font-size="17.7" text-anchor="middle" font-weight="normal" font-style="italic" >p = 0.02</text>
<path d="M1202.5,496.5 V463.2 H1229.5 V591.4" fill="none" stroke="#000" stroke-width="1.75"/>
<text x="1216.2" y="454.0" font-size="17.7" text-anchor="middle" font-weight="normal" font-style="italic" >p = 0.03</text>
<path d="M1229.5,429.2 V404.6 H1257.3 V477.0" fill="none" stroke="#000" stroke-width="1.75"/>
<text x="1243.5" y="395.0" font-size="17.7" text-anchor="middle" font-weight="normal" font-style="italic" >p = 0.03</text>
<path d="M1307.9,453.8 V422.5 H1335.5 V550.4" fill="none" stroke="#000" stroke-width="1.75"/>
<text x="1321.2" y="413.4" font-size="17.7" text-anchor="middle" font-weight="normal" font-style="italic" >p &lt; 0.001</text>
<path d="M1307.9,393.2 V368.9 H1363.2 V597.4" fill="none" stroke="#000" stroke-width="1.75"/>
<text x="1335.2" y="359.7" font-size="17.7" text-anchor="middle" font-weight="normal" font-style="italic" >p &lt; 0.001</text>
<path d="M1390.8,597.4 V511.8 H1418.1 V539.8" fill="none" stroke="#000" stroke-width="1.75"/>
<text x="1404.1" y="502.3" font-size="17.7" text-anchor="middle" font-weight="normal" font-style="italic" >p &lt; 0.001</text>
<path d="M1418.1,476.5 V441.5 H1501.3 V493.1" fill="none" stroke="#000" stroke-width="1.75"/>
<text x="1459.4" y="431.7" font-size="17.7" text-anchor="middle" font-weight="normal" font-style="italic" >p &lt; 0.001</text>
<path d="M1473.7,553.7 V527.1 H1501.3 V588.0" fill="none" stroke="#000" stroke-width="1.75"/>
<text x="1486.7" y="517.9" font-size="17.7" text-anchor="middle" font-weight="normal" font-style="italic" >p &lt; 0.001</text>
<path d="M1446.1,603.0 V588.4 H1473.7 V621.3" fill="none" stroke="#000" stroke-width="1.75"/>
<text x="1459.4" y="578.8" font-size="17.7" text-anchor="middle" font-weight="normal" font-style="italic" >p = 0.002</text>
<path d="M1551.3,360.0 V332.3 H1578.9 V493.1" fill="none" stroke="#000" stroke-width="1.75"/>
<text x="1565.0" y="323.1" font-size="17.7" text-anchor="middle" font-weight="normal" font-style="italic" >p &lt; 0.001</text>
<path d="M1551.3,301.4 V291.4 H1606.6 V527.4" fill="none" stroke="#000" stroke-width="1.75"/>
<text x="1578.3" y="282.2" font-size="17.7" text-anchor="middle" font-weight="normal" font-style="italic" >p &lt; 0.001</text>
<path d="M1634.2,540.4 V441.2 H1661.9 V465.8" fill="none" stroke="#000" stroke-width="1.75"/>
<text x="1647.5" y="431.7" font-size="17.7" text-anchor="middle" font-weight="normal" font-style="italic" >p &lt; 0.001</text>
<path d="M1661.9,406.6 V368.9 H1744.8 V406.6" fill="none" stroke="#000" stroke-width="1.75"/>
<text x="1702.8" y="359.7" font-size="17.7" text-anchor="middle" font-weight="normal" font-style="italic" >p &lt; 0.001</text>
<path d="M1717.1,471.5 V441.2 H1744.8 V547.1" fill="none" stroke="#000" stroke-width="1.75"/>
<text x="1730.5" y="431.7" font-size="17.7" text-anchor="middle" font-weight="normal" font-style="italic" >p &lt; 0.001</text>
<path d="M1689.5,524.8 V506.5 H1717.1 V601.4" fill="none" stroke="#000" stroke-width="1.75"/>
<text x="1702.8" y="497.3" font-size="17.7" text-anchor="middle" font-weight="normal" font-style="italic" >p &lt; 0.001</text>
<rect x="795.5" y="54.8" width="4.8" height="586.6" fill="#000"/>
<rect x="783.3" y="636.4" width="986.7" height="5" fill="#000"/>
<rect x="783.5" y="442.8" width="14" height="5.0" fill="#000"/>
<rect x="783.5" y="249.3" width="14" height="5.0" fill="#000"/>
<rect x="783.5" y="55.8" width="14" height="5.0" fill="#000"/>
<text x="779.3" y="646.5" font-size="18.0" text-anchor="end" font-weight="bold" font-style="normal" >0.0</text>
<text x="779.3" y="453.0" font-size="18.0" text-anchor="end" font-weight="bold" font-style="normal" >0.5</text>
<text x="779.3" y="259.5" font-size="18.0" text-anchor="end" font-weight="bold" font-style="normal" >1.0</text>
<text x="779.3" y="66.0" font-size="18.0" text-anchor="end" font-weight="bold" font-style="normal" >1.5</text>
<rect x="915.0" y="641" width="4.4" height="13" fill="#000"/>
<text x="917.2" y="674.6" font-size="18.3" text-anchor="middle" font-weight="bold" font-style="normal" >E-cad</text>
<rect x="1158.4" y="641" width="4.4" height="13" fill="#000"/>
<text x="1160.6" y="674.6" font-size="18.3" text-anchor="middle" font-weight="bold" font-style="normal" >N-Cad</text>
<rect x="1401.9" y="641" width="4.4" height="13" fill="#000"/>
<text x="1404.1" y="674.6" font-size="18.3" text-anchor="middle" font-weight="bold" font-style="normal" >MMP-2</text>
<rect x="1645.3" y="641" width="4.4" height="13" fill="#000"/>
<text x="1647.5" y="674.6" font-size="18.3" text-anchor="middle" font-weight="bold" font-style="normal" >MMP-9</text>
<text transform="translate(740.6,351.5) rotate(-90)" font-size="17.3" font-weight="bold" text-anchor="middle" textLength="265.8" lengthAdjust="spacing">Relative Protein Level(/GAPDH)</text>
<rect x="1405.0" y="33.5" width="33.8" height="6.2" fill="#A088D0" stroke="#2A1758" stroke-width="1.6"/>
<text x="1459.0" y="43.3" font-size="17.2" text-anchor="start" font-weight="normal" font-style="normal" >Control</text>
<rect x="1405.0" y="58.8" width="33.8" height="6.2" fill="#6EC3F8" stroke="#2A4EE6" stroke-width="1.6"/>
<text x="1459.0" y="67.6" font-size="18.15" text-anchor="start" font-weight="normal" font-style="normal" >25 mg/kg DHA(DHA<tspan font-size="13.8" dy="3.6">25</tspan><tspan dy="-3.6">)</tspan></text>
<rect x="1405.0" y="86.5" width="33.8" height="6.2" fill="#8CC4CC" stroke="#3A6B75" stroke-width="1.6"/>
<text x="1459.0" y="95.2" font-size="18.15" text-anchor="start" font-weight="normal" font-style="normal" >50 mg/kg DHA(DHA<tspan font-size="13.8" dy="3.6">50</tspan><tspan dy="-3.6">)</tspan></text>
<rect x="1405.0" y="114.1" width="33.8" height="6.2" fill="#E8A27E" stroke="#E0581E" stroke-width="1.6"/>
<text x="1459.0" y="122.2" font-size="18.15" text-anchor="start" font-weight="normal" font-style="normal" >DHA<tspan font-size="13.8" dy="3.6">50</tspan><tspan dy="-3.6">+miR-inhibitor NC</tspan></text>
<rect x="1405.0" y="141.8" width="33.8" height="6.2" fill="#E0797F" stroke="#DC0A12" stroke-width="1.6"/>
<text x="1459.0" y="149.9" font-size="18.15" text-anchor="start" font-weight="normal" font-style="normal" >DHA<tspan font-size="13.8" dy="3.6">50</tspan><tspan dy="-3.6">+miR-497-5p inhibitor</tspan></text>
<rect x="1405.0" y="169.4" width="33.8" height="6.2" fill="#2E1A54" stroke="#A088D0" stroke-width="1.6"/>
<text x="1459.0" y="177.5" font-size="18.15" text-anchor="start" font-weight="normal" font-style="normal" >DHA<tspan font-size="13.8" dy="3.6">50</tspan><tspan dy="-3.6">+si-NC</tspan></text>
<rect x="1405.0" y="197.0" width="33.8" height="6.2" fill="#2F4FE0" stroke="#6EC3F8" stroke-width="1.6"/>
<text x="1459.0" y="204.8" font-size="18.15" text-anchor="start" font-weight="normal" font-style="normal" >DHA<tspan font-size="13.8" dy="3.6">50</tspan><tspan dy="-3.6">+si-SOX5</tspan></text>
<rect x="1405.0" y="223.7" width="33.8" height="6.2" fill="#41707C" stroke="#8CC4CC" stroke-width="1.6"/>
<text x="1459.0" y="231.4" font-size="18.15" text-anchor="start" font-weight="normal" font-style="normal" >DHA<tspan font-size="13.8" dy="3.6">50</tspan><tspan dy="-3.6">+miR-497-5p inhibitor+si-SOX5</tspan></text>
<text x="729.0" y="729.3" font-size="25.5" text-anchor="start" font-weight="bold" font-style="normal" >D</text>
<path d="M843.9,1150.0 V1148.3 M831.9,1148.3 H855.9" stroke="#262626" stroke-width="1.3" fill="none"/>
<rect x="821.3" y="1150.7" width="45.2" height="7.8" fill="#CDC3E6" stroke="#0a0a0a" stroke-width="1.8"/>
<path d="M900.8,1142.3 V1140.6 M888.8,1140.6 H912.8" stroke="#262626" stroke-width="1.3" fill="none"/>
<rect x="878.2" y="1143.0" width="45.2" height="15.5" fill="#A8E0F8" stroke="#0a0a0a" stroke-width="1.8"/>
<path d="M957.4,1119.0 V1117.3 M945.4,1117.3 H969.4" stroke="#262626" stroke-width="1.3" fill="none"/>
<rect x="934.8" y="1119.7" width="45.2" height="38.8" fill="#C4E2E4" stroke="#0a0a0a" stroke-width="1.8"/>
<path d="M1014.4,1115.3 V1113.9 M1002.4,1113.9 H1026.4" stroke="#262626" stroke-width="1.3" fill="none"/>
<rect x="991.8" y="1116.0" width="45.2" height="42.5" fill="#F2D0BC" stroke="#0a0a0a" stroke-width="1.8"/>
<path d="M1071.0,1150.0 V1148.3 M1059.0,1148.3 H1083.0" stroke="#262626" stroke-width="1.3" fill="none"/>
<rect x="1048.4" y="1150.7" width="45.2" height="7.8" fill="#EEBEBE" stroke="#0a0a0a" stroke-width="1.8"/>
<path d="M1128.0,1111.7 V1110.3 M1116.0,1110.3 H1140.0" stroke="#262626" stroke-width="1.3" fill="none"/>
<rect x="1105.4" y="1112.4" width="45.2" height="46.1" fill="#9489AA" stroke="#0a0a0a" stroke-width="1.8"/>
<path d="M1184.7,1065.7 V1064.0 M1172.7,1064.0 H1196.7" stroke="#262626" stroke-width="1.3" fill="none"/>
<rect x="1162.1" y="1066.4" width="45.2" height="92.1" fill="#2F4FE0" stroke="#0a0a0a" stroke-width="1.8"/>
<path d="M1241.3,1115.0 V1113.9 M1229.3,1113.9 H1253.3" stroke="#262626" stroke-width="1.3" fill="none"/>
<rect x="1218.7" y="1115.7" width="45.2" height="42.8" fill="#41707C" stroke="#0a0a0a" stroke-width="1.8"/>
<path d="M1321.7,825.5 V824.5 M1309.7,824.5 H1333.7" stroke="#262626" stroke-width="1.3" fill="none"/>
<rect x="1299.1" y="826.2" width="45.2" height="332.3" fill="#CDC3E6" stroke="#0a0a0a" stroke-width="1.8"/>
<path d="M1378.3,967.8 V966.4 M1366.3,966.4 H1390.3" stroke="#262626" stroke-width="1.3" fill="none"/>
<rect x="1355.7" y="968.5" width="45.2" height="190.0" fill="#A8E0F8" stroke="#0a0a0a" stroke-width="1.8"/>
<path d="M1435.1,1068.7 V1067.0 M1423.1,1067.0 H1447.1" stroke="#262626" stroke-width="1.3" fill="none"/>
<rect x="1412.5" y="1069.4" width="45.2" height="89.1" fill="#C4E2E4" stroke="#0a0a0a" stroke-width="1.8"/>
<path d="M1492.0,1061.7 V1059.6 M1480.0,1059.6 H1504.0" stroke="#262626" stroke-width="1.3" fill="none"/>
<rect x="1469.4" y="1062.4" width="45.2" height="96.1" fill="#F2D0BC" stroke="#0a0a0a" stroke-width="1.8"/>
<path d="M1548.6,976.2 V974.8 M1536.6,974.8 H1560.6" stroke="#262626" stroke-width="1.3" fill="none"/>
<rect x="1526.0" y="976.9" width="45.2" height="181.6" fill="#EEBEBE" stroke="#0a0a0a" stroke-width="1.8"/>
<path d="M1605.6,1074.4 V1074.0 M1593.6,1074.0 H1617.6" stroke="#262626" stroke-width="1.3" fill="none"/>
<rect x="1583.0" y="1075.1" width="45.2" height="83.4" fill="#9489AA" stroke="#0a0a0a" stroke-width="1.8"/>
<path d="M1662.2,1114.3 V1113.6 M1650.2,1113.6 H1674.2" stroke="#262626" stroke-width="1.3" fill="none"/>
<rect x="1639.6" y="1115.0" width="45.2" height="43.5" fill="#2F4FE0" stroke="#0a0a0a" stroke-width="1.8"/>
<path d="M1719.1,1065.4 V1064.6 M1707.1,1064.6 H1731.1" stroke="#262626" stroke-width="1.3" fill="none"/>
<rect x="1696.5" y="1066.1" width="45.2" height="92.4" fill="#41707C" stroke="#0a0a0a" stroke-width="1.8"/>
<path d="M843.9,1144.3 V1105.0 H900.8 V1136.0" fill="none" stroke="#000" stroke-width="1.8"/>
<text x="872.2" y="1095.3" font-size="17.7" text-anchor="middle" font-weight="normal" font-style="italic" >p &lt; 0.001</text>
<path d="M843.9,1075.0 V1061.7 H957.4 V1105.0" fill="none" stroke="#000" stroke-width="1.8"/>
<text x="900.2" y="1052.0" font-size="17.7" text-anchor="middle" font-weight="normal" font-style="italic" >p &lt; 0.001</text>
<path d="M1014.0,1108.4 V1088.0 H1070.6 V1143.3" fill="none" stroke="#000" stroke-width="1.8"/>
<text x="1042.3" y="1078.0" font-size="17.7" text-anchor="middle" font-weight="normal" font-style="italic" >p &lt; 0.001</text>
<path d="M1070.6,1056.0 V979.5 H1241.5 V991.1" fill="none" stroke="#000" stroke-width="1.8"/>
<text x="1155.6" y="969.8" font-size="17.7" text-anchor="middle" font-weight="normal" font-style="italic" >p &lt; 0.001</text>
<path d="M1127.9,1105.0 V1052.0 H1184.9 V1059.4" fill="none" stroke="#000" stroke-width="1.8"/>
<text x="1155.6" y="1042.3" font-size="17.7" text-anchor="middle" font-weight="normal" font-style="italic" >p &lt; 0.001</text>
<path d="M1184.9,1024.5 V1020.0 H1241.5 V1107.7" fill="none" stroke="#000" stroke-width="1.8"/>
<text x="1212.2" y="1010.3" font-size="17.7" text-anchor="middle" font-weight="normal" font-style="italic" >p &lt; 0.001</text>
<path d="M1321.2,818.2 V805.6 H1378.1 V960.5" fill="none" stroke="#000" stroke-width="1.8"/>
<text x="1349.5" y="795.9" font-size="17.7" text-anchor="middle" font-weight="normal" font-style="italic" >p &lt; 0.001</text>
<path d="M1321.2,778.9 V763.9 H1435.1 V1061.0" fill="none" stroke="#000" stroke-width="1.8"/>
<text x="1377.8" y="754.3" font-size="17.7" text-anchor="middle" font-weight="normal" font-style="italic" >p &lt; 0.001</text>
<path d="M1491.7,1052.7 V951.7 H1548.6 V966.4" fill="none" stroke="#000" stroke-width="1.8"/>
<text x="1520.0" y="942.1" font-size="17.7" text-anchor="middle" font-weight="normal" font-style="italic" >p &lt; 0.001</text>
<path d="M1548.6,918.1 V899.8 H1718.8 V961.4" fill="none" stroke="#000" stroke-width="1.8"/>
<text x="1633.2" y="890.1" font-size="17.7" text-anchor="middle" font-weight="normal" font-style="italic" >p &lt; 0.001</text>
<path d="M1605.2,1069.6 V1041.0 H1661.9 V1109.4" fill="none" stroke="#000" stroke-width="1.8"/>
<text x="1633.2" y="1031.0" font-size="17.7" text-anchor="middle" font-weight="normal" font-style="italic" >p &lt; 0.001</text>
<path d="M1661.9,1011.4 V995.0 H1718.8 V1053.7" fill="none" stroke="#000" stroke-width="1.8"/>
<text x="1689.8" y="985.3" font-size="17.7" text-anchor="middle" font-weight="normal" font-style="italic" >p &lt; 0.001</text>
<rect x="795.1" y="769.4" width="3.3" height="391.2" fill="#000"/>
<rect x="783.1" y="1157.3" width="985" height="3.3" fill="#000"/>
<rect x="783.1" y="1079.8" width="13" height="3.4" fill="#000"/>
<rect x="783.1" y="1002.2" width="13" height="3.4" fill="#000"/>
<rect x="783.1" y="924.7" width="13" height="3.4" fill="#000"/>
<rect x="783.1" y="847.1" width="13" height="3.4" fill="#000"/>
<rect x="783.1" y="769.6" width="13" height="3.4" fill="#000"/>
<text x="780.0" y="1166.2" font-size="18.2" text-anchor="end" font-weight="normal" font-style="normal" >0.0</text>
<text x="780.0" y="1088.7" font-size="18.2" text-anchor="end" font-weight="normal" font-style="normal" >0.2</text>
<text x="780.0" y="1011.1" font-size="18.2" text-anchor="end" font-weight="normal" font-style="normal" >0.4</text>
<text x="780.0" y="933.6" font-size="18.2" text-anchor="end" font-weight="normal" font-style="normal" >0.6</text>
<text x="780.0" y="856.0" font-size="18.2" text-anchor="end" font-weight="normal" font-style="normal" >0.8</text>
<text x="780.0" y="778.5" font-size="18.2" text-anchor="end" font-weight="normal" font-style="normal" >1.0</text>
<rect x="1040.4" y="1160" width="3.2" height="11.6" fill="#000"/>
<text x="1042.0" y="1193.0" font-size="18.4" text-anchor="middle" font-weight="bold" font-style="normal" >Bax</text>
<rect x="1518.4" y="1160" width="3.2" height="11.6" fill="#000"/>
<text x="1520.0" y="1193.0" font-size="18.4" text-anchor="middle" font-weight="bold" font-style="normal" >Bcl-2</text>
<text transform="translate(739.4,968.5) rotate(-90)" font-size="17.3" font-weight="bold" text-anchor="middle" textLength="265.8" lengthAdjust="spacing">Relative Protein Level(/GAPDH)</text>
<rect x="849.9" y="748.5" width="33.2" height="5.6" fill="#CDC3E6" stroke="#0a0a0a" stroke-width="1.7"/>
<text x="903.8" y="757.3" font-size="17.2" text-anchor="start" font-weight="normal" font-style="normal" >Control</text>
<rect x="849.9" y="771.8" width="33.2" height="5.6" fill="#A8E0F8" stroke="#0a0a0a" stroke-width="1.7"/>
<text x="903.8" y="780.0" font-size="18.15" text-anchor="start" font-weight="normal" font-style="normal" >25 mg/kg DHA(DHA<tspan font-size="13.8" dy="3.6">25</tspan><tspan dy="-3.6">)</tspan></text>
<rect x="849.9" y="798.4" width="33.2" height="5.6" fill="#C4E2E4" stroke="#0a0a0a" stroke-width="1.7"/>
<text x="903.8" y="806.6" font-size="18.15" text-anchor="start" font-weight="normal" font-style="normal" >50 mg/kg DHA(DHA<tspan font-size="13.8" dy="3.6">50</tspan><tspan dy="-3.6">)</tspan></text>
<rect x="849.9" y="825.0" width="33.2" height="5.6" fill="#F2D0BC" stroke="#0a0a0a" stroke-width="1.7"/>
<text x="903.8" y="832.5" font-size="18.15" text-anchor="start" font-weight="normal" font-style="normal" >DHA<tspan font-size="13.8" dy="3.6">50</tspan><tspan dy="-3.6">+miR-inhibitor NC</tspan></text>
<rect x="849.9" y="851.7" width="33.2" height="5.6" fill="#EEBEBE" stroke="#0a0a0a" stroke-width="1.7"/>
<text x="903.8" y="859.2" font-size="18.15" text-anchor="start" font-weight="normal" font-style="normal" >DHA<tspan font-size="13.8" dy="3.6">50</tspan><tspan dy="-3.6">+miR-497-5p inhibitor</tspan></text>
<rect x="849.9" y="878.3" width="33.2" height="5.6" fill="#9489AA" stroke="#0a0a0a" stroke-width="1.7"/>
<text x="903.8" y="885.8" font-size="18.15" text-anchor="start" font-weight="normal" font-style="normal" >DHA<tspan font-size="13.8" dy="3.6">50</tspan><tspan dy="-3.6">+si-NC</tspan></text>
<rect x="849.9" y="905.0" width="33.2" height="5.6" fill="#2F4FE0" stroke="#0a0a0a" stroke-width="1.7"/>
<text x="903.8" y="912.1" font-size="18.15" text-anchor="start" font-weight="normal" font-style="normal" >DHA<tspan font-size="13.8" dy="3.6">50</tspan><tspan dy="-3.6">+si-SOX5</tspan></text>
<rect x="849.9" y="929.6" width="33.2" height="5.6" fill="#41707C" stroke="#0a0a0a" stroke-width="1.7"/>
<text x="903.8" y="937.1" font-size="18.15" text-anchor="start" font-weight="normal" font-style="normal" >DHA<tspan font-size="13.8" dy="3.6">50</tspan><tspan dy="-3.6">+miR-497-5p inhibitor+si-SOX5</tspan></text>
</svg>
</body></html>
